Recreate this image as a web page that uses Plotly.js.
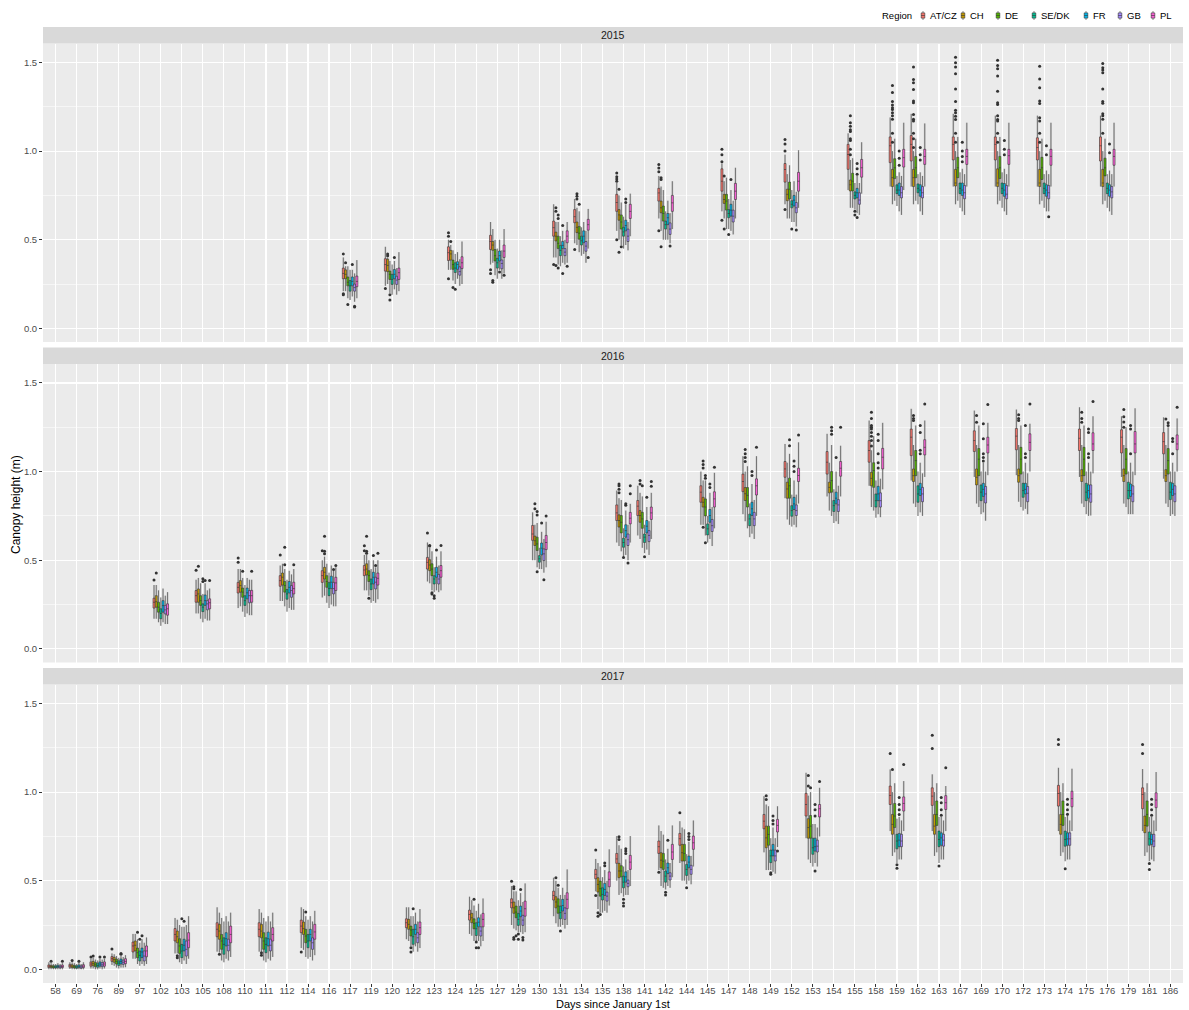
<!DOCTYPE html>
<html><head><meta charset="utf-8">
<script src="https://cdn.plot.ly/plotly-3.0.1.min.js"></script>
<style>html,body{margin:0;padding:0;background:#fff}#chart{width:1189px;height:1010px}</style>
</head><body><div id="chart"></div>
<script>
const REGIONS = ['AT/CZ','CH','DE','SE/DK','FR','GB','PL'];
const COLORS = ['#F8766D','#C49A00','#53B400','#00C094','#00B6EB','#A58AFF','#FB61D7'];
const YEARS = ['2015','2016','2017'];
const DAY_TICKS = [58,69,76,89,97,102,103,105,108,110,111,112,114,116,117,119,120,122,123,124,125,127,129,130,131,134,135,138,141,142,144,145,147,148,149,152,153,154,155,158,159,162,163,167,169,170,172,173,174,175,176,179,181,186];
const Y_TICKS = [0, 0.5, 1, 1.5];
const Y_TICK_TEXT = ['0.0','0.5','1.0','1.5'];

// ---------- 2015 (rows = days, columns = regions in REGIONS order) ----------
const days2015 = [117,120,124,127,131,134,138,142,147,152,155,159,162,167,170,173,176];
const q1_2015 = [
[.28,.28,.24,.21,.24,.21,.235],[.323,.32,.276,.248,.28,.248,.276],[.383,.385,.333,.315,.333,.30,.337],
[.445,.44,.38,.34,.38,.336,.40],[.52,.493,.45,.41,.45,.41,.483],[.596,.54,.503,.47,.483,.435,.554],
[.66,.61,.56,.52,.55,.49,.62],[.718,.652,.605,.56,.585,.53,.66],[.774,.705,.667,.624,.633,.60,.727],
[.825,.72,.73,.68,.69,.652,.774],[.897,.775,.775,.73,.736,.70,.853],[.935,.80,.845,.76,.75,.736,.91],
[.944,.80,.85,.765,.745,.736,.925],[.95,.803,.85,.76,.75,.731,.925],[.95,.80,.845,.76,.745,.731,.925],
[.95,.80,.84,.76,.745,.731,.92],[.944,.80,.86,.76,.745,.736,.92]];
const med2015 = [
[.31,.305,.26,.24,.265,.23,.265],[.36,.355,.305,.276,.305,.272,.314],[.427,.42,.36,.34,.36,.32,.37],
[.49,.47,.41,.37,.41,.366,.436],[.568,.52,.48,.44,.468,.43,.52],[.63,.57,.537,.494,.52,.464,.585],
[.71,.64,.60,.544,.58,.52,.66],[.764,.68,.648,.585,.624,.56,.708],[.83,.727,.718,.648,.667,.633,.774],
[.896,.756,.785,.70,.723,.68,.83],[.981,.81,.83,.75,.765,.724,.906],[1.03,.85,.906,.78,.78,.765,.963],
[1.038,.85,.906,.79,.78,.765,.97],[1.038,.82,.906,.79,.78,.765,.97],[1.038,.82,.906,.79,.78,.757,.974],
[1.02,.82,.906,.79,.78,.765,.97],[1.03,.82,.906,.79,.78,.77,.97]];
const q3_2015 = [
[.34,.33,.29,.27,.29,.25,.295],[.393,.39,.323,.305,.332,.294,.34],[.46,.44,.385,.37,.376,.347,.404],
[.525,.49,.445,.395,.436,.386,.47],[.605,.543,.52,.468,.49,.45,.55],[.67,.60,.575,.52,.55,.49,.615],
[.756,.67,.64,.57,.61,.56,.70],[.79,.718,.69,.605,.648,.595,.75],[.90,.756,.756,.67,.70,.667,.818],
[.93,.785,.825,.72,.75,.71,.88],[1.038,.837,.875,.77,.79,.765,.953],[1.08,.897,.957,.81,.82,.80,1.01],
[1.088,.897,.97,.815,.81,.80,1.01],[1.08,.897,.965,.82,.82,.806,1.01],[1.08,.90,.97,.82,.817,.806,1.01],
[1.075,.897,.965,.82,.81,.806,1.01],[1.08,.897,.96,.82,.81,.80,1.01]];
const lo2015 = [
[.21,.21,.17,.16,.18,.15,.17],[.24,.25,.20,.19,.22,.19,.21],[.33,.33,.27,.25,.28,.24,.25],
[.36,.37,.30,.28,.33,.28,.31],[.40,.40,.36,.35,.37,.36,.37],[.48,.47,.43,.41,.42,.37,.45],
[.55,.50,.47,.45,.47,.44,.52],[.62,.55,.50,.50,.50,.48,.56],[.66,.62,.56,.56,.55,.53,.62],
[.70,.62,.62,.60,.60,.575,.68],[.78,.68,.68,.67,.65,.64,.76],[.80,.70,.72,.69,.66,.64,.78],
[.80,.70,.72,.70,.66,.64,.80],[.80,.70,.72,.68,.66,.64,.80],[.80,.70,.72,.68,.66,.64,.80],
[.80,.70,.72,.68,.66,.66,.80],[.80,.70,.72,.68,.66,.64,.80]];
const hi2015 = [
[.40,.35,.35,.33,.33,.31,.385],[.46,.40,.38,.36,.38,.34,.43],[.50,.47,.44,.42,.43,.39,.49],
[.60,.56,.50,.45,.50,.44,.56],[.70,.60,.60,.52,.55,.50,.60],[.73,.68,.66,.57,.60,.55,.674],
[.82,.75,.71,.63,.70,.60,.76],[.86,.80,.78,.66,.72,.65,.83],[.93,.83,.85,.73,.78,.72,.906],
[.98,.87,.92,.78,.83,.77,1.005],[1.10,.95,.96,.82,.86,.82,1.05],[1.19,1.0,1.07,.86,.88,.86,1.16],
[1.21,1.0,1.07,.87,.88,.86,1.156],[1.21,1.0,1.08,.88,.90,.87,1.16],[1.20,1.0,1.08,.88,.90,.87,1.16],
[1.20,1.0,1.07,.87,.89,.87,1.16],[1.20,1.0,1.07,.87,.89,.87,1.16]];
// outliers: [day, region index, values]
const out2015 = [
[117,0,[.42,.195,.19]],[117,1,[.37]],[117,2,[.135]],[117,4,[.36]],[117,5,[.125,.12]],
[120,0,[.225]],[120,1,[.42,.41]],[120,2,[.19,.16]],[120,4,[.40]],
[124,0,[.54,.52,.28]],[124,1,[.49]],[124,2,[.23]],[124,3,[.22]],
[127,0,[.33,.31]],[127,1,[.27,.26]],[127,4,[.318]],[127,6,[.30]],
[131,0,[.36]],[131,1,[.68,.66,.355]],[131,2,[.64,.62,.34]],[131,4,[.58,.31]],[131,6,[.35]],
[134,0,[.445]],[134,1,[.76,.745,.73]],[134,2,[.70]],[134,6,[.40]],
[138,0,[.877,.855,.843,.83,.50]],[138,1,[.785,.43]],[138,2,[.46]],[138,4,[.73,.71]],
[142,0,[.924,.905,.883,.55]],[142,1,[.85,.84,.46]],[142,5,[.465]],
[147,0,[1.01,.98,.94,.61]],[147,1,[.86,.56]],[147,3,[.53]],[147,4,[.84]],
[152,0,[1.066,1.04,1.0,.67]],[152,3,[.56]],[152,5,[.555]],
[155,1,[1.2,1.16,1.14,1.12,1.11,1.07,1.06,1.01,.98]],[155,3,[.66,.64]],[155,4,[.93,.90,.87,.625]],
[159,1,[1.37,1.33,1.28,1.26,1.245,1.235,1.217,1.2,1.18,1.1,1.05]],[159,4,[1.0,.96,.92]],
[162,1,[1.475,1.404,1.385,1.348,1.282,1.273,1.207,1.18,1.17,1.1,1.07,1.02]],[162,4,[1.02,.98,.95]],
[167,1,[1.53,1.498,1.475,1.437,1.35,1.28,1.231,1.216,1.197,1.178,1.1,1.05]],[167,4,[1.05,1.0,.97,.94]],
[170,1,[1.513,1.483,1.464,1.423,1.337,1.273,1.263,1.2,1.178,1.17,1.1,1.05]],[170,4,[1.06,1.01,.98]],
[173,1,[1.478,1.407,1.357,1.282,1.269,1.188,1.17,1.1,1.05]],[173,4,[1.03,.98]],[173,5,[.63]],
[176,1,[1.494,1.47,1.457,1.442,1.35,1.28,1.27,1.21,1.2,1.18,1.1]],[176,4,[1.04,.99]]];

// ---------- 2016 ----------
const days2016 = [102,105,110,112,116,119,123,130,138,141,145,148,152,154,158,162,169,172,175,179,186];
const q1_2016 = [
[.23,.235,.207,.17,.207,.197,.19],[.263,.263,.245,.21,.245,.22,.226],[.315,.32,.291,.245,.282,.26,.263],
[.353,.36,.32,.28,.315,.291,.31],[.375,.394,.347,.30,.34,.31,.329],[.413,.417,.38,.334,.366,.338,.36],
[.45,.441,.413,.366,.404,.366,.404],[.612,.583,.555,.489,.53,.498,.56],[.724,.687,.654,.573,.63,.583,.705],
[.752,.714,.68,.60,.654,.605,.73],[.827,.80,.75,.643,.714,.662,.80],[.887,.837,.80,.695,.752,.695,.868],
[.968,.85,.85,.748,.786,.752,.944],[.986,.88,.884,.775,.818,.775,.974],[1.053,.92,.911,.80,.836,.80,1.015],
[1.09,.944,.977,.827,.865,.83,1.094],[1.113,.925,.977,.836,.86,.823,1.105],[1.123,.94,.986,.855,.874,.83,1.119],
[1.119,.944,.977,.836,.85,.827,1.119],[1.105,.944,.986,.846,.86,.83,1.105],[1.10,.944,.986,.842,.865,.83,1.123]];
const med2016 = [
[.263,.266,.235,.20,.244,.22,.226],[.30,.31,.272,.235,.272,.254,.26],[.347,.357,.32,.272,.316,.30,.30],
[.385,.404,.357,.31,.347,.329,.34],[.413,.432,.38,.34,.376,.34,.372],[.445,.45,.413,.366,.404,.376,.398],
[.488,.473,.45,.394,.432,.394,.441],[.648,.61,.592,.508,.568,.536,.60],[.767,.724,.714,.60,.667,.616,.737],
[.805,.752,.733,.63,.692,.64,.767],[.884,.827,.80,.677,.752,.695,.846],[.944,.875,.866,.733,.79,.733,.92],
[1.015,.902,.92,.78,.818,.78,.978],[1.053,.911,.949,.808,.85,.812,1.019],[1.119,.962,1.006,.836,.874,.836,1.081],
[1.194,.977,1.062,.874,.90,.874,1.137],[1.175,.968,1.07,.884,.90,.874,1.15],[1.20,.977,1.07,.893,.90,.878,1.165],
[1.188,.977,1.07,.884,.893,.874,1.156],[1.194,.977,1.07,.893,.893,.874,1.156],[1.169,.977,1.062,.884,.90,.874,1.156]];
const q3_2016 = [
[.286,.30,.263,.226,.272,.245,.254],[.329,.338,.30,.254,.304,.272,.282],[.375,.385,.343,.30,.343,.329,.33],
[.413,.428,.38,.335,.38,.357,.376],[.441,.46,.413,.375,.41,.375,.404],[.47,.48,.441,.394,.432,.404,.428],
[.516,.503,.48,.413,.46,.42,.47],[.696,.636,.63,.526,.597,.564,.64],[.812,.756,.752,.624,.70,.648,.77],
[.837,.78,.77,.648,.724,.667,.80],[.92,.855,.846,.705,.786,.73,.886],[.986,.91,.91,.76,.827,.77,.959],
[1.057,.94,.963,.808,.855,.812,1.019],[1.113,.94,1.0,.837,.884,.842,1.057],[1.175,.996,1.05,.874,.917,.88,1.131],
[1.24,1.015,1.119,.92,.934,.911,1.18],[1.23,1.015,1.13,.925,.934,.916,1.194],[1.243,1.015,1.137,.934,.934,.916,1.213],
[1.24,1.011,1.137,.934,.925,.925,1.219],[1.236,1.015,1.13,.94,.93,.92,1.226],[1.22,1.011,1.13,.94,.934,.92,1.207]];
const lo2016 = [
[.17,.17,.15,.13,.15,.14,.14],[.20,.20,.17,.15,.17,.16,.16],[.23,.24,.21,.18,.20,.19,.19],
[.27,.27,.24,.21,.23,.22,.22],[.29,.30,.26,.23,.25,.24,.24],[.33,.33,.30,.26,.27,.26,.28],
[.38,.37,.33,.32,.33,.32,.33],[.50,.50,.46,.45,.45,.43,.46],[.60,.58,.55,.52,.53,.50,.60],
[.64,.62,.57,.54,.56,.53,.62],[.70,.70,.64,.60,.62,.58,.68],[.76,.72,.68,.63,.65,.62,.75],
[.85,.73,.70,.69,.70,.686,.82],[.86,.78,.75,.71,.72,.705,.86],[.92,.80,.78,.74,.76,.743,.90],
[.95,.82,.80,.75,.77,.75,.97],[.97,.82,.80,.76,.77,.723,.98],[.98,.83,.80,.78,.79,.76,1.0],
[.97,.82,.80,.76,.75,.752,.99],[.97,.82,.80,.76,.76,.76,.98],[.96,.82,.80,.75,.76,.75,1.0]];
const hi2016 = [
[.36,.36,.33,.29,.34,.30,.32],[.39,.40,.37,.31,.37,.33,.34],[.45,.45,.40,.36,.40,.39,.39],
[.47,.48,.45,.39,.44,.42,.45],[.50,.52,.48,.43,.47,.44,.46],[.53,.53,.50,.45,.50,.46,.50],
[.60,.57,.55,.46,.52,.47,.55],[.77,.70,.71,.57,.66,.62,.717],[.893,.85,.84,.68,.78,.70,.818],
[.92,.88,.86,.70,.80,.72,.88],[1.0,.95,.95,.75,.88,.80,.993],[1.087,1.0,1.03,.82,.93,.84,1.087],
[1.156,1.05,1.10,.87,.95,.87,1.165],[1.213,1.05,1.15,.90,1.0,.92,1.146],[1.288,1.12,1.20,.95,1.0,.96,1.275],
[1.354,1.15,1.26,1.0,1.05,.99,1.288],[1.344,1.15,1.26,1.0,1.05,1.0,1.275],[1.35,1.15,1.26,1.0,1.05,.99,1.27],
[1.363,1.15,1.26,1.0,1.05,1.0,1.312],[1.312,1.15,1.25,1.0,1.05,1.0,1.357],[1.306,1.15,1.25,1.0,1.05,1.0,1.30]];
const out2016 = [
[102,0,[.389]],[102,1,[.428]],
[105,0,[.443]],[105,1,[.466]],[105,3,[.395,.38]],[105,4,[.385]],[105,6,[.385]],
[110,0,[.513,.489]],[110,2,[.438]],[110,6,[.438]],
[112,0,[.53]],[112,2,[.573,.475]],[112,6,[.475]],
[116,0,[.554]],[116,1,[.635,.55,.536]],[116,5,[.447]],[116,6,[.47]],
[119,0,[.582,.554]],[119,1,[.635,.55,.54]],[119,2,[.285]],[119,4,[.526]],[119,5,[.47]],[119,6,[.54]],
[123,0,[.654]],[123,1,[.583,.58]],[123,2,[.316,.31]],[123,3,[.30,.285]],[123,4,[.558]],[123,6,[.583]],
[130,1,[.818,.79]],[130,2,[.775,.755,.435]],[130,4,[.71]],[130,5,[.39]],[130,6,[.75]],
[138,1,[.93,.92,.90,.88]],[138,3,[.515]],[138,4,[.818,.81]],[138,5,[.484]],[138,6,[.92,.875]],
[141,1,[.95,.93]],[141,2,[.92]],[141,3,[.52]],[141,4,[.855]],[141,6,[.944,.918]],
[145,1,[1.06,1.04,1.02,.686]],[145,2,[.978,.963,.598]],[145,4,[.93,.91]],[145,6,[1.024]],
[148,1,[1.124,1.1,1.08,1.057]],[148,4,[1.0,.978]],[148,6,[1.137]],
[152,2,[1.18,1.146]],[152,4,[1.06,1.03,1.0]],[152,6,[1.206]],
[154,2,[1.25,1.23,1.21]],[154,4,[1.08]],[154,6,[1.25]],
[158,1,[1.335,1.3,1.26,1.25,1.24,1.22,1.2,1.175,1.145]],[158,4,[1.21,1.175,1.1,1.05,1.02]],
[162,1,[1.316,1.3,1.288]],[162,4,[1.26,1.22,1.12,1.1]],[162,6,[1.382]],
[169,1,[1.316,1.278]],[169,4,[1.27,1.185,1.1,1.08,1.06]],[169,6,[1.378]],
[172,1,[1.32,1.3,1.288]],[172,4,[1.26,1.1,1.08]],[172,6,[1.382]],
[175,1,[1.335,1.3,1.278]],[175,4,[1.24,1.22,1.1,1.08]],[175,6,[1.395]],
[179,1,[1.35,1.31,1.28,1.25]],[179,4,[1.26,1.24,1.1]],
[186,1,[1.297]],[186,2,[1.275,1.26]],[186,4,[1.187,1.17,1.1]],[186,6,[1.363]]];

// ---------- 2017 ----------
const days2017 = [58,69,76,89,97,103,108,111,114,122,125,129,131,135,138,142,144,149,153,159,163,174,181];
const q1_2017 = [
[.01,.01,.008,.008,.01,.008,.01],[.012,.01,.008,.006,.01,.006,.01],[.018,.02,.015,.012,.018,.015,.018],
[.045,.04,.03,.022,.03,.028,.032],[.098,.104,.066,.047,.066,.047,.071],[.16,.15,.09,.066,.104,.075,.122],
[.184,.17,.113,.085,.132,.104,.15],[.184,.178,.113,.094,.132,.104,.16],[.207,.197,.15,.122,.16,.113,.17],
[.235,.226,.188,.141,.197,.15,.197],[.278,.263,.229,.191,.24,.188,.24],[.347,.316,.291,.248,.297,.248,.30],
[.391,.347,.316,.285,.329,.282,.342],[.511,.436,.413,.391,.417,.385,.466],[.598,.517,.522,.46,.492,.466,.564],
[.654,.573,.564,.492,.54,.504,.62],[.70,.611,.611,.53,.573,.536,.677],[.793,.686,.70,.602,.64,.611,.775],
[.865,.74,.74,.649,.667,.662,.86],[.93,.762,.80,.68,.692,.692,.893],[.925,.762,.812,.692,.70,.695,.902],
[.921,.762,.812,.695,.70,.70,.917],[.906,.771,.808,.70,.705,.692,.912]];
const med2017 = [
[.018,.016,.014,.013,.016,.014,.016],[.02,.018,.015,.013,.017,.013,.018],[.03,.032,.025,.022,.03,.025,.03],
[.06,.055,.045,.035,.045,.04,.045],[.132,.136,.094,.079,.098,.075,.104],[.197,.184,.132,.103,.136,.113,.165],
[.226,.216,.16,.141,.173,.136,.197],[.226,.216,.16,.141,.173,.136,.197],[.244,.23,.188,.16,.197,.15,.211],
[.263,.254,.222,.184,.226,.178,.235],[.31,.291,.259,.229,.266,.216,.282],[.376,.347,.323,.282,.329,.278,.342],
[.417,.38,.357,.32,.36,.316,.395],[.536,.479,.455,.423,.451,.413,.508],[.623,.555,.555,.492,.522,.485,.605],
[.692,.616,.61,.526,.573,.526,.662],[.737,.658,.654,.564,.605,.564,.714],[.836,.742,.761,.64,.673,.64,.812],
[.93,.80,.808,.686,.692,.695,.906],[.981,.818,.865,.724,.729,.724,.936],[.977,.808,.874,.733,.742,.729,.94],
[.992,.818,.874,.733,.736,.736,.963],[.987,.812,.874,.736,.733,.724,.955]];
const q3_2017 = [
[.025,.022,.02,.02,.023,.02,.024],[.028,.026,.022,.02,.025,.02,.026],[.042,.045,.038,.035,.042,.038,.042],
[.072,.068,.058,.048,.058,.052,.06],[.154,.16,.12,.104,.12,.104,.132],[.23,.216,.173,.141,.17,.16,.207],
[.263,.254,.197,.178,.207,.17,.244],[.263,.254,.207,.178,.21,.17,.235],[.278,.267,.226,.197,.226,.178,.254],
[.285,.282,.244,.226,.254,.207,.267],[.334,.316,.285,.263,.291,.24,.316],[.398,.38,.357,.316,.357,.305,.385],
[.441,.41,.398,.357,.395,.347,.432],[.564,.517,.498,.46,.485,.436,.55],[.654,.598,.585,.526,.55,.504,.643],
[.724,.658,.654,.555,.60,.545,.705],[.767,.705,.705,.592,.639,.587,.752],[.874,.808,.808,.673,.705,.673,.846],
[.993,.85,.868,.74,.74,.729,.93],[1.034,.874,.936,.762,.767,.762,.973],[1.024,.874,.95,.78,.77,.762,.98],
[1.038,.874,.95,.78,.77,.77,1.005],[1.024,.865,.95,.775,.762,.762,.996]];
const lo2017 = [
[0,0,0,0,0,0,0],[.002,0,0,0,0,0,0],[.005,.005,0,0,.005,0,.005],
[.025,.02,.01,.005,.01,.01,.012],[.06,.06,.03,.02,.03,.02,.03],[.09,.09,.04,.03,.05,.03,.06],
[.10,.095,.05,.04,.06,.05,.07],[.10,.10,.05,.04,.06,.05,.07],[.12,.11,.07,.06,.07,.05,.08],
[.17,.16,.13,.10,.13,.10,.12],[.20,.19,.16,.16,.16,.13,.16],[.25,.23,.22,.21,.21,.20,.21],
[.30,.26,.24,.24,.25,.23,.25],[.44,.34,.32,.32,.33,.32,.36],[.50,.42,.43,.41,.42,.42,.47],
[.56,.47,.46,.45,.47,.46,.52],[.60,.50,.50,.48,.50,.48,.58],[.66,.56,.56,.56,.55,.54,.69],
[.74,.62,.60,.58,.60,.58,.75],[.78,.64,.66,.60,.62,.62,.78],[.78,.64,.66,.60,.62,.62,.78],
[.78,.64,.66,.61,.62,.62,.78],[.78,.64,.66,.61,.62,.61,.78]];
const hi2017 = [
[.04,.035,.03,.03,.035,.03,.035],[.04,.04,.035,.03,.04,.03,.04],[.06,.065,.055,.05,.06,.055,.06],
[.09,.085,.075,.065,.075,.07,.08],[.20,.20,.17,.15,.17,.15,.18],[.29,.28,.25,.24,.24,.25,.30],
[.35,.32,.29,.27,.30,.27,.32],[.34,.32,.29,.27,.30,.27,.32],[.35,.34,.30,.28,.30,.27,.33],
[.35,.35,.30,.30,.32,.27,.34],[.41,.39,.36,.33,.37,.31,.40],[.47,.44,.44,.39,.43,.38,.485],
[.517,.50,.46,.42,.46,.42,.564],[.623,.60,.58,.52,.56,.50,.677],[.752,.70,.68,.58,.62,.56,.752],
[.812,.78,.76,.62,.68,.60,.812],[.836,.80,.79,.65,.72,.64,.84],[.977,.93,.92,.74,.80,.74,.92],
[1.109,.98,1.0,.82,.82,.80,1.024],[1.128,1.0,1.05,.85,.86,.84,1.062],[1.10,1.0,1.05,.86,.86,.84,1.034],
[1.137,1.0,1.05,.86,.87,.84,1.132],[1.13,1.0,1.05,.86,.86,.84,1.113]];
const out2017 = [
[58,1,[.045]],[58,6,[.045]],[69,1,[.05]],[69,4,[.045]],
[76,0,[.07]],[76,1,[.075]],[76,4,[.07]],[76,6,[.07]],
[89,0,[.115]],[89,4,[.09,.085]],
[97,2,[.21]],[97,3,[.17]],[97,4,[.19]],
[103,1,[.077,.066]],[103,3,[.285]],[103,4,[.272]],
[108,1,[.085]],[111,1,[.094,.08]],[114,0,[.098]],[114,2,[.323]],
[122,2,[.122,.098]],[122,3,[.342]],
[125,2,[.395]],[125,3,[.154,.122]],[125,4,[.122]],
[129,0,[.497]],[129,1,[.466,.455,.18,.17]],[129,2,[.19]],[129,3,[.20,.17]],[129,4,[.45]],[129,5,[.18,.165]],
[131,1,[.517]],[131,2,[.474]],[131,3,[.216]],
[135,0,[.673,.417]],[135,1,[.32,.30]],[135,2,[.31]],[135,4,[.60,.585]],
[138,1,[.748,.733]],[138,3,[.395,.375,.357]],[138,4,[.68,.667,.654]],
[142,0,[.548]],[142,3,[.435,.42]],[142,4,[.729]],
[144,0,[.883]],[144,3,[.46]],[144,4,[.767,.75,.733]],
[149,1,[.98,.958]],[149,3,[.545,.536]],[149,4,[.865,.84,.82]],[149,6,[.668]],
[153,1,[1.094,1.035]],[153,2,[1.024]],[153,4,[.93,.90,.865,.555]],[153,6,[1.06]],
[159,0,[1.218]],[159,1,[1.128]],[159,3,[.59,.57]],[159,4,[.97,.93,.90,.874]],[159,6,[1.156]],
[163,0,[1.32,1.246]],[163,3,[.583]],[163,4,[.97,.94,.90,.87]],[163,6,[1.137]],
[174,0,[1.297,1.269]],[174,3,[.568]],[174,4,[.96,.93,.90,.875]],
[181,0,[1.269,1.218]],[181,3,[.597,.564]],[181,4,[.96,.93,.90,.87]]];

// ---------- layout constants (pixels) ----------
const W = 1189, H = 1010;
const M = {l: 43, r: 6, t: 27, b: 27, pad: 0};
const STRIP_H = 16.5, PANEL_H = 298.5, GAP = 5.5;
const PW = W - M.l - M.r, PH = H - M.t - M.b;
const px2p = px => (px - M.l) / PW;
const py2p = py => (H - M.b - py) / PH;

const facets = [
  {days: days2015, q1: q1_2015, med: med2015, q3: q3_2015, lo: lo2015, hi: hi2015, out: out2015},
  {days: days2016, q1: q1_2016, med: med2016, q3: q3_2016, lo: lo2016, hi: hi2016, out: out2016},
  {days: days2017, q1: q1_2017, med: med2017, q3: q3_2017, lo: lo2017, hi: hi2017, out: out2017}
];

const shadowTraces = [], boxTraces = [];
facets.forEach((f, k) => {
  const yax = k === 0 ? 'y' : 'y' + (k + 1);
  const xs = f.days.map(String);
  REGIONS.forEach((reg, r) => {
    const pick = tbl => tbl.map(row => row[r]);
    shadowTraces.push({
      type: 'box', orientation: 'v', xaxis: 'x', yaxis: yax, x: xs,
      q1: pick(f.lo), median: pick(f.med), q3: pick(f.hi),
      lowerfence: pick(f.lo), upperfence: pick(f.hi),
      fillcolor: 'rgba(120,120,120,0.22)', line: {width: 0, color: 'rgba(0,0,0,0)'},
      boxpoints: false, whiskerwidth: 0,
      offsetgroup: reg, alignmentgroup: 'all', showlegend: false, hoverinfo: 'skip'
    });
    const samples = f.days.map((d, i) => {
      const hits = f.out.filter(o => o[0] === d && o[1] === r);
      return [f.med[i][r]].concat(...hits.map(o => o[2]));
    });
    boxTraces.push({
      type: 'box', orientation: 'v', xaxis: 'x', yaxis: yax, x: xs, y: samples,
      q1: pick(f.q1), median: pick(f.med), q3: pick(f.q3),
      lowerfence: pick(f.lo), upperfence: pick(f.hi),
      boxpoints: 'outliers', jitter: 0, pointpos: 0,
      marker: {size: 3, color: '#333333', line: {width: 0}},
      fillcolor: COLORS[r], line: {color: '#333333', width: 0.6}, whiskerwidth: 0,
      offsetgroup: reg, alignmentgroup: 'all', showlegend: false, hoverinfo: 'skip'
    });
  });
});

const shapes = [], annotations = [];
const yAxes = {};
YEARS.forEach((yr, k) => {
  const stripTop = M.t + k * (STRIP_H + PANEL_H + GAP);
  const panelTop = stripTop + STRIP_H;
  const panelBottom = panelTop + PANEL_H;
  const name = k === 0 ? 'yaxis' : 'yaxis' + (k + 1);
  yAxes[name] = {
    domain: [py2p(panelBottom), py2p(panelTop)], anchor: 'x',
    range: [-0.077, 1.607], tickmode: 'array', tickvals: Y_TICKS, ticktext: Y_TICK_TEXT,
    ticks: 'outside', ticklen: 3, tickwidth: 1, tickcolor: '#333333',
    tickfont: {size: 9.5, color: '#4D4D4D'},
    showgrid: true, gridcolor: '#FFFFFF', gridwidth: 1.1,
    minor: {tickmode: 'array', tickvals: [0.25, 0.75, 1.25], showgrid: true, gridcolor: '#FFFFFF', gridwidth: 0.55, ticks: ''},
    zeroline: false, showline: false, fixedrange: true
  };
  shapes.push({type: 'rect', xref: 'paper', yref: 'paper', x0: 0, x1: 1,
    y0: py2p(panelTop), y1: py2p(stripTop), fillcolor: '#D9D9D9', line: {width: 0}});
  annotations.push({xref: 'paper', yref: 'paper', x: 0.5, y: py2p(stripTop + STRIP_H / 2),
    text: yr, showarrow: false, xanchor: 'center', yanchor: 'middle',
    font: {size: 10.5, color: '#1A1A1A'}});
});

// axis titles
annotations.push({xref: 'paper', yref: 'paper', x: px2p(16), y: py2p((M.t + H - M.b) / 2),
  text: 'Canopy height (m)', textangle: -90, showarrow: false, xanchor: 'center', yanchor: 'middle',
  font: {size: 12, color: '#000000'}});
annotations.push({xref: 'paper', yref: 'paper', x: 0.5, y: py2p(1003.5),
  text: 'Days since January 1st', showarrow: false, xanchor: 'center', yanchor: 'middle',
  font: {size: 11, color: '#000000'}});

// custom legend (ggplot-style, compact)
const LEG_Y = 15.5;
annotations.push({xref: 'paper', yref: 'paper', x: px2p(914), y: py2p(LEG_Y), text: 'Region',
  showarrow: false, xanchor: 'right', yanchor: 'middle', font: {size: 9.5, color: '#000000'}});
const LEG_ICON_X = [923, 963, 998, 1034, 1086, 1120, 1153];
REGIONS.forEach((reg, r) => {
  const cx = LEG_ICON_X[r];
  shapes.push({type: 'line', xref: 'paper', yref: 'paper', x0: px2p(cx), x1: px2p(cx),
    y0: py2p(LEG_Y - 4.5), y1: py2p(LEG_Y + 4.5), line: {color: '#333333', width: 0.6}});
  shapes.push({type: 'rect', xref: 'paper', yref: 'paper', x0: px2p(cx - 1.8), x1: px2p(cx + 1.8),
    y0: py2p(LEG_Y - 2.6), y1: py2p(LEG_Y + 2.6), fillcolor: COLORS[r], line: {color: '#333333', width: 0.6}});
  shapes.push({type: 'line', xref: 'paper', yref: 'paper', x0: px2p(cx - 1.8), x1: px2p(cx + 1.8),
    y0: py2p(LEG_Y), y1: py2p(LEG_Y), line: {color: '#333333', width: 0.6}});
  annotations.push({xref: 'paper', yref: 'paper', x: px2p(cx + 4.5), y: py2p(LEG_Y), text: reg,
    showarrow: false, xanchor: 'left', yanchor: 'middle', font: {size: 9.5, color: '#000000'}});
});

const layout = Object.assign({
  width: W, height: H, margin: M,
  paper_bgcolor: '#FFFFFF', plot_bgcolor: '#EBEBEB',
  font: {family: 'Liberation Sans, Arial, sans-serif', color: '#4D4D4D'},
  showlegend: false,
  boxmode: 'group', boxgap: 0.25, boxgroupgap: 0.1,
  xaxis: {
    type: 'category', categoryorder: 'array', categoryarray: DAY_TICKS.map(String),
    range: [-0.6, DAY_TICKS.length - 0.4], anchor: 'y3',
    tickmode: 'array', tickvals: DAY_TICKS.map(String), ticktext: DAY_TICKS.map(String),
    tickangle: 0, ticks: 'outside', ticklen: 2.5, tickwidth: 1, tickcolor: '#333333',
    ticklabelstandoff: -4,
    tickfont: {size: 9.5, color: '#4D4D4D'},
    showgrid: true, gridcolor: '#FFFFFF', gridwidth: 1.1,
    zeroline: false, showline: false, fixedrange: true
  },
  shapes: shapes, annotations: annotations
}, yAxes);

Plotly.newPlot('chart', shadowTraces.concat(boxTraces), layout, {displayModeBar: false, staticPlot: true});
</script></body></html>
